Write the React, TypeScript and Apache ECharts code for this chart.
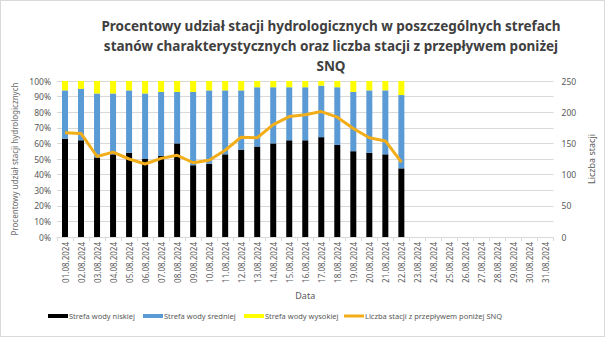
import React, { useEffect, useRef } from "react";
import * as echarts from "echarts";

const days: string[] = Array.from({ length: 31 }, (_, i) => `${String(i + 1).padStart(2, "0")}.08.2024`);
const lowZone: (number | null)[] = [63, 62, 51, 53, 54, 50, 52, 60, 46, 47, 53, 56, 58, 60, 62, 62, 64, 59, 55, 54, 53, 44];
const midZone: (number | null)[] = [31, 33, 41, 39, 40, 42, 41, 33, 47, 47, 41, 38, 38, 36, 34, 34, 33, 37, 38, 40, 41, 47];
const highZone: (number | null)[] = [6, 5, 8, 8, 6, 8, 7, 7, 7, 6, 6, 6, 4, 4, 4, 4, 3, 4, 7, 6, 6, 9];
const belowSNQ: (number | null)[] = [167, 166, 129, 136, 125, 117, 126, 131, 119, 123, 139, 160, 159, 180, 193, 196, 201, 192, 174, 159, 154, 120];

const seriesNames = [
  "Strefa wody niskiej",
  "Strefa wody średniej",
  "Strefa wody wysokiej",
  "Liczba stacji z przepływem poniżej SNQ",
];

const titleLines = [
  "Procentowy udział stacji hydrologicznych w poszczególnych strefach",
  "stanów charakterystycznych oraz liczba stacji z przepływem poniżej",
  "SNQ",
];

const FONT = "Noto Sans";
const GRAY = "#595959";
const legendLefts = [42, 137, 238, 338];

export default function App() {
  const ref = useRef<HTMLDivElement>(null);
  useEffect(() => {
    document.body.style.margin = "0";
    const chart = echarts.init(ref.current!, null, { renderer: "svg" });
    chart.setOption({
      animation: false,
      backgroundColor: "#ffffff",
      textStyle: { fontFamily: FONT },
      title: {
        text: titleLines.join("\n"),
        left: 325,
        top: 10,
        textAlign: "center",
        textStyle: { fontSize: 13.5, fontWeight: "bold", color: "#404040", lineHeight: 20, fontFamily: FONT },
      },
      grid: { left: 56, right: 50, top: 80, bottom: 99, containLabel: false },
      legend: seriesNames.map((n, i) => ({
        bottom: 11,
        left: legendLefts[i],
        itemWidth: 20,
        itemHeight: i === 3 ? 3 : 4,
        itemGap: 0,
        icon: "rect",
        textStyle: { fontSize: 7.5, color: GRAY, fontFamily: FONT, padding: [0, 0, 0, -4] },
        data: [n],
      })),
      xAxis: {
        type: "category",
        data: days,
        name: "Data",
        nameLocation: "middle",
        nameGap: 54,
        nameTextStyle: { fontSize: 9, color: GRAY },
        axisLine: { lineStyle: { color: "#d9d9d9" } },
        axisTick: { show: true, length: 4, lineStyle: { color: "#d9d9d9" } },
        axisLabel: { rotate: 90, fontSize: 8, color: GRAY, margin: 5, interval: 0 },
      },
      yAxis: [
        {
          type: "value",
          min: 0,
          max: 100,
          interval: 10,
          name: "Procentowy udział stacji hydrologicznych",
          nameLocation: "middle",
          nameGap: 38,
          nameTextStyle: { fontSize: 8, color: "#6b6b6b" },
          axisLabel: { formatter: "{value}%", fontSize: 8.5, color: GRAY, margin: 6 },
          splitLine: { lineStyle: { color: "#d9d9d9" } },
          axisLine: { show: false },
          axisTick: { show: false },
        },
        {
          type: "value",
          min: 0,
          max: 250,
          interval: 50,
          name: "Liczba stacji",
          nameLocation: "middle",
          nameGap: 26,
          nameTextStyle: { fontSize: 9, color: GRAY },
          axisLabel: { fontSize: 8.5, color: GRAY, margin: 8 },
          splitLine: { show: false },
          axisLine: { show: false },
          axisTick: { show: false },
        },
      ],
      series: [
        { name: seriesNames[0], type: "bar", stack: "z", data: lowZone, barWidth: 6, itemStyle: { color: "#000000" } },
        { name: seriesNames[1], type: "bar", stack: "z", data: midZone, barWidth: 6, itemStyle: { color: "#5b9bd5" } },
        { name: seriesNames[2], type: "bar", stack: "z", data: highZone, barWidth: 6, itemStyle: { color: "#ffff00" } },
        {
          name: seriesNames[3],
          type: "line",
          yAxisIndex: 1,
          data: belowSNQ,
          showSymbol: false,
          symbol: "none",
          lineStyle: { color: "#f2ae1a", width: 3 },
          itemStyle: { color: "#f2ae1a" },
        },
      ],
    });
    return () => chart.dispose();
  }, []);
  return (
    <div
      ref={ref}
      style={{ width: 605, height: 337, boxSizing: "border-box", border: "1px solid #d9d9d9" }}
    />
  );
}
